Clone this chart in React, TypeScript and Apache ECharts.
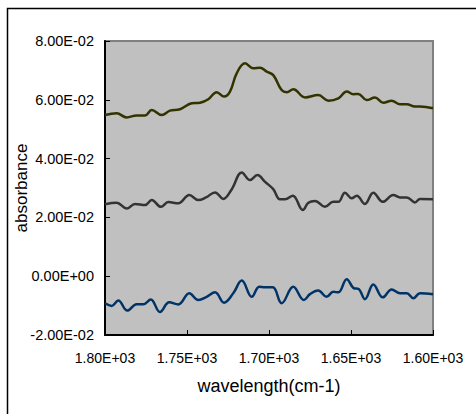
import React, { useEffect, useRef } from "react";
import * as echarts from "echarts";

const xTicks = [1800, 1750, 1700, 1650, 1600];
const yTicks = [-0.02, 0, 0.02, 0.04, 0.06, 0.08];

const topWave = [1800, 1792.9, 1786.8, 1780.7, 1775.6, 1771.5, 1765.4, 1760.4, 1754.3, 1747.1, 1742.1, 1737.0, 1731.9, 1727.4, 1723.8, 1719.7, 1714.6, 1709.6, 1705.5, 1701.4, 1697.4, 1692.3, 1689.2, 1685.2, 1678.0, 1670.0, 1663.8, 1657.7, 1652.6, 1648.6, 1645.5, 1640.4, 1635.4, 1630.3, 1625.2, 1620.1, 1616.0, 1611.0, 1607.9, 1600];
const topAbs = [0.0548, 0.0554, 0.0540, 0.0547, 0.0547, 0.0565, 0.0548, 0.0563, 0.0568, 0.0588, 0.0590, 0.0602, 0.0626, 0.0611, 0.0628, 0.0690, 0.0724, 0.0707, 0.0709, 0.0696, 0.0684, 0.0633, 0.0626, 0.0636, 0.0608, 0.0616, 0.0597, 0.0605, 0.0628, 0.0619, 0.0620, 0.0599, 0.0608, 0.0590, 0.0597, 0.0585, 0.0585, 0.0577, 0.0577, 0.0571];

const midWave = [1800, 1792.9, 1786.8, 1781.7, 1775.6, 1771.5, 1765.9, 1761.4, 1755.3, 1748.6, 1743.1, 1738.4, 1732.9, 1727.9, 1722.7, 1716.6, 1711.6, 1707.1, 1702.4, 1697.4, 1693.3, 1690.2, 1685.5, 1679.4, 1676.0, 1671.9, 1665.9, 1660.8, 1657.7, 1653.7, 1649.6, 1646.5, 1641.5, 1636.4, 1630.6, 1624.2, 1620.1, 1616.0, 1611.0, 1607.9, 1600];
const midAbs = [0.0245, 0.0250, 0.0230, 0.0246, 0.0242, 0.0259, 0.0236, 0.0252, 0.0248, 0.0276, 0.0259, 0.0268, 0.0285, 0.0263, 0.0296, 0.0353, 0.0327, 0.0344, 0.0321, 0.0296, 0.0262, 0.0262, 0.0274, 0.0225, 0.0250, 0.0256, 0.0236, 0.0253, 0.0253, 0.0284, 0.0265, 0.0274, 0.0246, 0.0284, 0.0253, 0.0276, 0.0268, 0.0268, 0.0251, 0.0263, 0.0262];

const lowWave = [1800, 1795.9, 1791.9, 1786.4, 1780.7, 1776.6, 1772.1, 1766.5, 1760.8, 1755.3, 1748.6, 1743.1, 1738.0, 1732.9, 1727.4, 1721.8, 1716.6, 1710.5, 1705.9, 1702.4, 1697.7, 1692.3, 1685.2, 1678.7, 1675.0, 1670.0, 1664.9, 1660.8, 1657.7, 1652.6, 1648.2, 1645.5, 1641.5, 1636.4, 1630.6, 1625.2, 1620.1, 1616.0, 1612.0, 1607.9, 1600];
const lowAbs = [-0.0092, -0.0101, -0.0083, -0.0117, -0.0095, -0.0095, -0.0079, -0.0122, -0.0089, -0.0096, -0.0058, -0.0081, -0.0070, -0.0055, -0.0090, -0.0058, -0.0015, -0.0070, -0.0036, -0.0038, -0.0038, -0.0092, -0.0036, -0.0081, -0.0061, -0.0049, -0.0070, -0.0053, -0.0055, -0.0010, -0.0041, -0.0043, -0.0078, -0.0028, -0.0072, -0.0045, -0.0058, -0.0058, -0.0075, -0.0058, -0.0061];

const FONT = 'Arial, "Liberation Sans", sans-serif';

function sci(v: number): string {
  if (Math.abs(v) < 1e-12) return "0.00E+00";
  let e = Math.floor(Math.log10(Math.abs(v)));
  let m = v / Math.pow(10, e);
  if (Math.abs(m) >= 9.995) { m /= 10; e += 1; }
  const sign = e < 0 ? "-" : "+";
  const ea = Math.abs(e);
  return m.toFixed(2) + "E" + sign + (ea < 10 ? "0" + ea : String(ea));
}

function zip(a: number[], b: number[]) {
  return a.map((x, i) => [x, b[i]]);
}

export default function App() {
  const ref = useRef<HTMLDivElement>(null);
  useEffect(() => {
    if (!ref.current) return;
    const chart = echarts.init(ref.current, null, { renderer: "svg" });
    const lineSeries = (data: number[][], color: string) => ({
      type: "line",
      data,
      showSymbol: false,
      smooth: 0.4,
      lineStyle: { color, width: 2.5 },
      z: 3,
    });
    chart.setOption({
      animation: false,
      backgroundColor: "#ffffff",
      graphic: [
        {
          type: "rect",
          shape: { x: 7.5, y: 8.5, width: 480, height: 420 },
          style: { fill: "none", stroke: "#000000", lineWidth: 1.5 },
          silent: true,
        },
      ],
      grid: {
        left: 105,
        top: 41,
        width: 328,
        height: 294,
        show: true,
        backgroundColor: "#C0C0C0",
        borderColor: "#808080",
        borderWidth: 2,
      },
      xAxis: {
        type: "value",
        min: 1600,
        max: 1800,
        interval: 50,
        inverse: true,
        name: "wavelength(cm-1)",
        nameLocation: "middle",
        nameGap: 42,
        nameMoveOverlap: false,
        nameTextStyle: { fontFamily: FONT, fontSize: 18, color: "#000" },
        axisLine: { show: true, onZero: false, lineStyle: { color: "#000", width: 2 } },
        axisTick: { show: true, inside: true, length: 5, lineStyle: { color: "#000", width: 1 } },
        axisLabel: {
          fontFamily: FONT,
          fontSize: 14,
          color: "#000",
          margin: 16,
          formatter: (v: number) => sci(v),
        },
        splitLine: { show: false },
      },
      yAxis: {
        type: "value",
        min: -0.02,
        max: 0.08,
        interval: 0.02,
        name: "absorbance",
        nameLocation: "middle",
        nameGap: 75,
        nameMoveOverlap: false,
        nameTextStyle: { fontFamily: FONT, fontSize: 17, color: "#000" },
        axisLine: { show: true, onZero: false, lineStyle: { color: "#000", width: 2 } },
        axisTick: { show: true, inside: true, length: 5, lineStyle: { color: "#000", width: 1 } },
        axisLabel: {
          fontFamily: FONT,
          fontSize: 14.5,
          color: "#000",
          margin: 11,
          formatter: (v: number) => sci(v),
        },
        splitLine: { show: false },
      },
      series: [
        lineSeries(zip(topWave, topAbs), "#333300"),
        lineSeries(zip(midWave, midAbs), "#333333"),
        lineSeries(zip(lowWave, lowAbs), "#003366"),
      ],
    });
    return () => chart.dispose();
  }, []);
  return (
    <div
      ref={ref}
      style={{ position: "absolute", left: 0, top: 0, width: 476, height: 414 }}
    />
  );
}
